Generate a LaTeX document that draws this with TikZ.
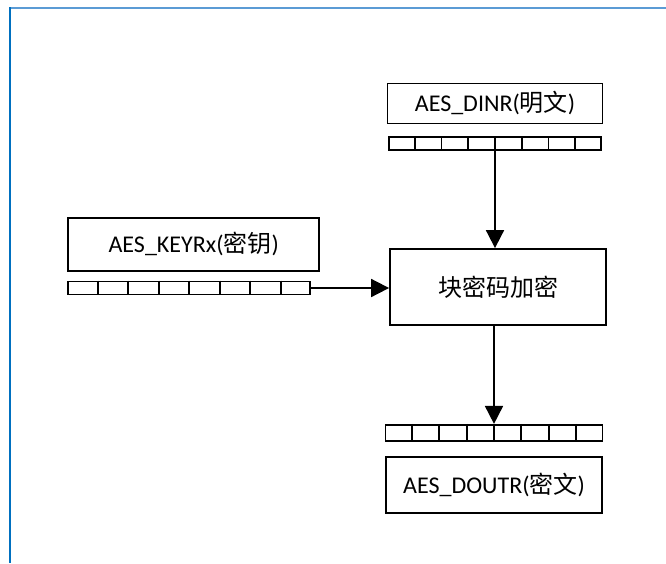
\documentclass[tikz,border=0pt]{standalone}
\usepackage{fontspec}
\setmainfont{Carlito}
\newfontfamily\cjk{Noto Sans CJK SC}
\usepackage{xcolor}
\usepackage{tikz}
\usetikzlibrary{arrows.meta, positioning, calc}

\definecolor{frametop}{RGB}{91,155,213}
\definecolor{frameleft}{RGB}{0,112,192}

\begin{document}
\begin{tikzpicture}[
  x=1pt, y=-1pt,
  box/.style={
    rectangle,
    draw,
    line width=1.8pt,
    align=center,
    inner sep=0pt,
    font=\fontsize{24}{28}\selectfont
  },
  reg/.style={
    rectangle,
    draw,
    line width=1.8pt,
    inner sep=0pt
  },
  arrow/.style={
    -{Triangle[length=18pt, width=18pt]},
    line width=1.8pt
  }
]
\useasboundingbox (0,0) rectangle (666,563);

% Frame lines
\draw[frametop, line width=2pt] (9,8) -- (666,8);
\draw[frameleft, line width=2pt] (10,7) -- (10,563);

% Block cipher
\node[box, minimum width=216pt, minimum height=76pt, font=\fontsize{24}{28}\selectfont\cjk] (enc) at (498,287) {块密码加密};

% Input data
\node[reg, minimum width=212pt, minimum height=13pt, above=97pt of enc, xshift=-3pt] (dinreg) {};
\node[box, minimum width=215pt, minimum height=40pt, above=12pt of dinreg] (dinbox) {AES\_DINR({\cjk 明文})};

% Key
\node[reg, minimum width=242pt, minimum height=13pt, left=78pt of enc, yshift=-1pt] (keyreg) {};
\node[box, minimum width=251pt, minimum height=53pt, above=9pt of keyreg.north west, anchor=south west] (keybox) {AES\_KEYRx({\cjk 密钥})};

% Output data
\node[reg, minimum width=217pt, minimum height=16pt, below=98pt of enc, xshift=-4pt] (doutreg) {};
\node[box, minimum width=216pt, minimum height=56pt, below=14pt of doutreg] (doutbox) {AES\_DOUTR({\cjk 密文})};

% Register cells
\foreach \r in {dinreg, keyreg, doutreg}
  \foreach \i in {1,...,7}
    \draw[line width=1.8pt] ($(\r.north west)!\i/8!(\r.north east)$) -- ($(\r.south west)!\i/8!(\r.south east)$);

% Arrows
\draw[arrow] (dinreg.south) -- (dinreg.south |- enc.north);
\draw[arrow] (keyreg.east) -- (keyreg.east -| enc.west);
\draw[arrow] (enc.south -| doutreg.north) -- (doutreg.north);

\end{tikzpicture}
\end{document}
